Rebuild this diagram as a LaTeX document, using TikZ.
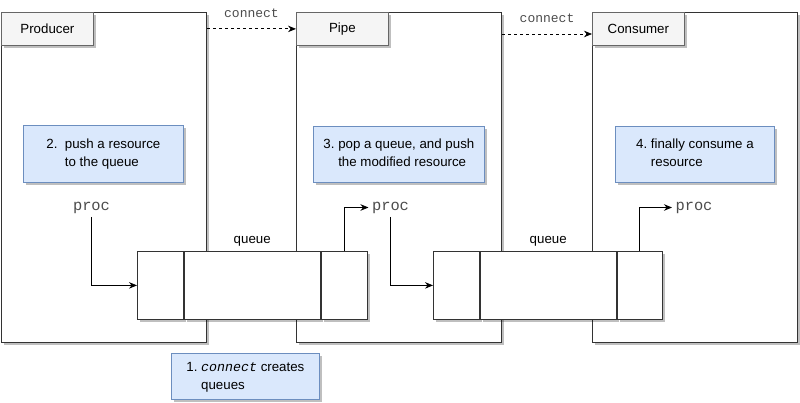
\documentclass[tikz,border=0pt]{standalone}
\usepackage{fontspec}
\setmainfont{Liberation Sans}
\setmonofont{Liberation Mono}
\usetikzlibrary{arrows.meta,positioning,shadows}

\definecolor{notefill}{HTML}{DAE8FC}
\definecolor{noteline}{HTML}{6C8EBF}
\definecolor{tabfill}{HTML}{F5F5F5}
\definecolor{tabline}{HTML}{666666}
\definecolor{laneline}{HTML}{333333}

\newcommand{\stepnote}[4]{\begin{tabular}{@{}l@{\kern#2}l@{}}#1&#3\\&#4\end{tabular}}

\tikzset{
  soft shadow/.style={drop shadow={shadow xshift=2.5pt, shadow yshift=-2.5pt, fill=black, opacity=0.25}},
  lane/.style={draw=laneline, fill=white, line width=1pt, minimum width=205pt, minimum height=330pt,
    anchor=north west, inner sep=0pt, soft shadow},
  tab/.style={draw=tabline, fill=tabfill, line width=0.8pt, minimum width=92pt, minimum height=33pt,
    anchor=north west, inner sep=0pt, soft shadow, font=\fontsize{13.3}{16}\selectfont},
  note/.style={draw=noteline, fill=notefill, line width=0.8pt, anchor=north west, inner sep=0pt,
    soft shadow, font=\fontsize{13.3}{18}\selectfont},
  cell/.style={draw=laneline, fill=white, line width=0.8pt, minimum height=68pt, inner sep=0pt, soft shadow},
  conn/.style={->, dashed, dash pattern=on 3pt off 3pt, line width=0.8pt},
  flow/.style={->, line width=0.8pt},
  mono/.style={font=\fontsize{13}{16}\ttfamily, text=black!70},
  proclabel/.style={font=\fontsize{15.4}{18}\ttfamily, text=black!70},
  qlabel/.style={font=\fontsize{13.3}{16}\selectfont}
}

\begin{document}
\begin{tikzpicture}[x=1pt, y=-1pt, >={Stealth[length=8pt,width=6.5pt]}]
\useasboundingbox (0,0) rectangle (800,403);

% Lanes
\node[lane] (prod) at (1,12) {};
\node[lane] (pipe) at (296,12) {};
\node[lane] (cons) at (592,12) {};

% Lane titles
\node[tab] (prodtab) at (prod.north west) {Producer};
\node[tab] (pipetab) at (pipe.north west) {Pipe};
\node[tab] (constab) at (cons.north west) {Consumer};

% connect
\draw[conn] (prod.east |- prodtab.east) -- (pipetab.west)
  node[midway, above=8pt, mono] {connect};
\draw[conn] ([yshift=-22pt]pipe.north east) -- ([yshift=-22pt]cons.north west)
  node[midway, above=8pt, mono] {connect};

% Steps
\node[note, minimum width=160pt, minimum height=57pt] (step2) at (23,125)
  {\stepnote{2.}{7.4pt}{push a resource}{to the queue}};
\node[note, minimum width=171pt, minimum height=56pt] (step3) at (313,126)
  {\stepnote{3.}{3.7pt}{pop a queue, and push}{the modified resource}};
\node[note, minimum width=159pt, minimum height=56pt] (step4) at (615,126)
  {\stepnote{4.}{3.7pt}{finally consume a}{resource}};
\node[note, minimum width=148pt, minimum height=46pt] (step1) at (171,353)
  {\stepnote{1.}{3.7pt}{\textit{\ttfamily connect} creates}{queues}};

% Queues
\node[cell, minimum width=46pt, anchor=north west] (q1in) at (137,251) {};
\node[cell, minimum width=136pt, anchor=west] (q1mid) at (q1in.east) {};
\node[cell, minimum width=46pt, anchor=west] (q1out) at (q1mid.east) {};
\node[qlabel, above=1pt of q1mid.north] (q1lbl) {queue};

\node[cell, minimum width=46pt, anchor=north west] (q2in) at (433,251) {};
\node[cell, minimum width=136pt, anchor=west] (q2mid) at (q2in.east) {};
\node[cell, minimum width=45pt, anchor=west] (q2out) at (q2mid.east) {};
\node[qlabel, above=1pt of q2mid.north] (q2lbl) {queue};

% proc
\node[proclabel] (proc1) at (91.5,207.5) {proc};
\node[proclabel] (proc2) at (390.5,207.5) {proc};
\node[proclabel] (proc3) at (694,207.5) {proc};

\draw[flow] (proc1.south) |- (q1in.west);
\draw[flow] (q1out.north) |- (proc2.west);
\draw[flow] (proc2.south) |- (q2in.west);
\draw[flow] (q2out.north) |- (proc3.west);
\end{tikzpicture}
\end{document}
